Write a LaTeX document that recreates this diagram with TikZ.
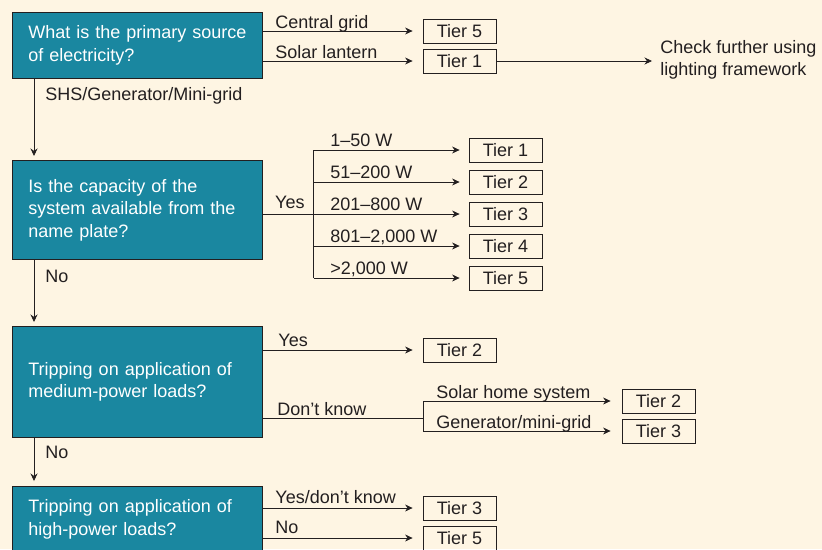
\documentclass[tikz,border=0pt]{standalone}
\usepackage{fontspec}
\setmainfont{Liberation Sans}
\usetikzlibrary{arrows.meta}

\definecolor{paper}{RGB}{254,245,227}
\definecolor{petrol}{RGB}{26,135,160}
\definecolor{ink}{RGB}{35,31,32}

\begin{document}
\begin{tikzpicture}[x=1pt, y=-1pt, line width=0.8pt, color=ink,
    every node/.style={font=\fontsize{18}{22.5}\selectfont},
    question/.style={draw=ink, fill=petrol, text=white, anchor=north west,
        text width=218pt, inner xsep=16pt, inner ysep=0pt, align=left},
    tier/.style={draw=ink, minimum width=73pt, minimum height=24pt, inner sep=0pt},
    lbl/.style={anchor=base west, inner sep=0pt},
    arr/.style={-{Stealth[length=7.5pt,width=7pt]}}]

% Page and background
\useasboundingbox (0,0) rectangle (822,549);
\clip (0,0) rectangle (822,549);
\fill [paper] (0,0) rectangle (822,549);

%%%%%%%%%%%%%%%%%%%%%% SOURCE %%%%%%%%%%%%%%%%%%%%%%

\node [question, minimum height=66pt] (q1) at (12,12)
    {\mbox{What is the primary source}\\of electricity?};
\node [tier] (t15) at (459.5,31) {Tier 5};
\node [tier] (t11) at (459.5,61) {Tier 1};
\node [anchor=west, inner sep=0pt, align=left] (check) at (660,60)
    {Check further using\\lighting framework};

\draw [arr, shorten >=10pt] (q1.east |- t15) to (t15.west);
    \node [lbl] (lgrid) at (275,28) {Central grid};
\draw [arr, shorten >=10pt] (q1.east |- t11) to (t11.west);
    \node [lbl] (llantern) at (275,58) {Solar lantern};
\draw [arr, shorten >=8pt] (t11.east) to (t11.east -| check.west);

%%%%%%%%%%%%%%%%%%%%%% CAPACITY %%%%%%%%%%%%%%%%%%%%%%

\node [question, minimum height=99pt] (q2) at (12,160)
    {Is the capacity of the\\system available from the\\name plate?};
\foreach \i/\y in {1/150,2/182,3/214,4/246,5/278}
    \node [tier] (t2\i) at (505.5,\y) {Tier \i};

\draw [arr, shorten >=4pt] ([xshift=22pt]q1.south west) to ([xshift=22pt]q2.north west);
    \node [lbl] (lshs) at (45,100) {SHS/Generator/Mini-grid};

% Yes branch
\coordinate (yes2) at (313.5,214);
\draw (q2.east |- t23) to (yes2);
\draw (yes2 |- t21) to (yes2 |- t25);
\foreach \i in {1,...,5}
    \draw [arr, shorten >=9pt] (yes2 |- t2\i) to (t2\i.west);
    \node [anchor=base east, inner sep=0pt] (lyes2) at (305,208.5) {Yes};

% Watt ranges
\foreach \y/\w in {146/{1--50 W},178/{51--200 W},210/{201--800 W},242/{801--2,000 W},274/{>2,000 W}}
    \node [lbl] at (330,\y) {\w};

%%%%%%%%%%%%%%%%%%%%%% MEDIUM LOADS %%%%%%%%%%%%%%%%%%%%%%

\node [question, minimum height=111pt] (q3) at (12,326)
    {Tripping on application of\\medium-power loads?};
\node [tier] (t31) at (459.5,350) {Tier 2};
\node [tier] (t32) at (658.5,401) {Tier 2};
\node [tier] (t33) at (658.5,431) {Tier 3};

\draw [arr, shorten >=4pt] ([xshift=22pt]q2.south west) to ([xshift=22pt]q3.north west);
    \node [lbl] (lno2) at (45,282) {No};

\draw [arr, shorten >=10pt] (q3.east |- t31) to (t31.west);
    \node [lbl] (lyes3) at (278,346) {Yes};

% Don't know branch
\coordinate (dk3) at (423,418);
\draw (q3.east |- dk3) to (dk3);
    \node [lbl] (ldk3) at (277,415) {Don’t know};
\draw (dk3 |- t32) to (dk3 |- t33);
\draw [arr, shorten >=11pt] (dk3 |- t32) to (t32.west);
    \node [lbl] (lshs3) at (436,398) {Solar home system};
\draw [arr, shorten >=11pt] (dk3 |- t33) to (t33.west);
    \node [lbl] (lgen3) at (436,428) {Generator/mini-grid};

%%%%%%%%%%%%%%%%%%%%%% HIGH LOADS %%%%%%%%%%%%%%%%%%%%%%

\node [question, minimum height=66pt] (q4) at (12,486)
    {Tripping on application of\\high-power loads?};
\node [tier] (t41) at (459.5,508) {Tier 3};
\node [tier] (t42) at (459.5,538) {Tier 5};

\draw [arr, shorten >=5pt] ([xshift=22pt]q3.south west) to ([xshift=22pt]q4.north west);
    \node [lbl] (lno3) at (45,458) {No};

\draw [arr, shorten >=10pt] (q4.east |- t41) to (t41.west);
    \node [lbl] (lyes4) at (275,503.5) {Yes/don’t know};
\draw [arr, shorten >=10pt] (q4.east |- t42) to (t42.west);
    \node [lbl] (lno4) at (275,533.5) {No};

\end{tikzpicture}
\end{document}
